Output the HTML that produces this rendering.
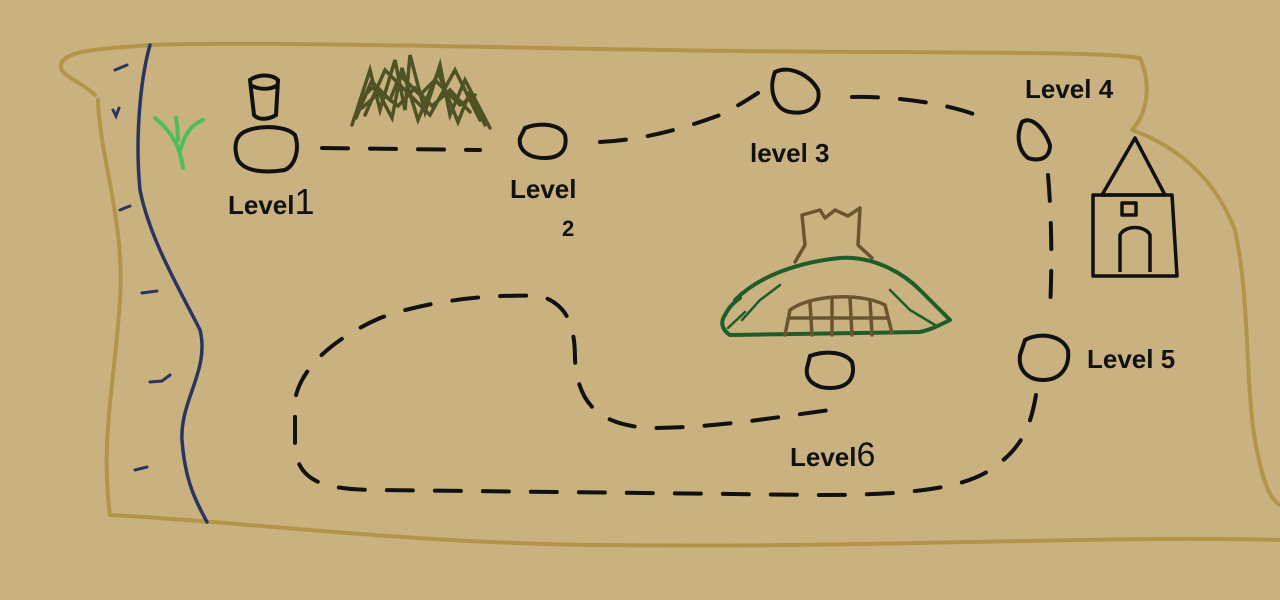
<!DOCTYPE html>
<html><head><meta charset="utf-8"><style>
html,body{margin:0;padding:0;background:#C9B280;}
svg{display:block}
text{font-family:"Liberation Sans",sans-serif;font-weight:bold;fill:#111;}
</style></head><body>
<svg width="1280" height="600" viewBox="0 0 1280 600">
<rect width="1280" height="600" fill="#C9B280"/>
<path fill="none" stroke="#B3954A" stroke-width="4" stroke-linecap="round" stroke-linejoin="round"
 d="M95,95 C80,80 55,75 62,62 C70,48 120,48 150,45 C300,40 600,52 900,52 C1000,53 1100,52 1140,58 C1150,80 1150,110 1132,130 C1160,140 1210,165 1235,230 C1250,300 1245,380 1255,440 C1262,480 1270,500 1280,505 M1280,540 C1100,535 900,548 600,545 C400,543 250,522 110,515 C100,440 115,380 120,300 C125,220 100,160 98,100"/>
<path fill="none" stroke="#2A3560" stroke-width="3.5" stroke-linecap="round"
 d="M150,45 C140,80 135,140 140,190 C150,240 180,290 200,330 C210,370 180,400 182,440 C185,480 195,500 207,522"/>
<g fill="none" stroke="#2A3560" stroke-width="3" stroke-linecap="round">
<path d="M115,70 l12,-5"/><path d="M113,110 l3,6 l3,-8"/><path d="M120,210 l10,-4"/><path d="M142,293 l15,-2"/><path d="M150,382 l12,-1 l8,-6"/><path d="M135,470 l12,-3"/>
</g>
<path fill="none" stroke="#4CBF5A" stroke-width="4" stroke-linecap="round" d="M183,168 C180,145 170,130 155,118 M180,150 C185,135 190,125 203,120 M178,140 C178,130 177,125 176,118"/>
<g fill="none" stroke="#4E5224" stroke-width="3.5" stroke-linecap="round">
<path d="M352,125 L370,70 L380,110 L395,60 L405,110 L410,55 L425,112 L440,65 L450,115 L465,80 L490,128"/>
<path d="M360,100 L375,85 L390,100 L400,75 L420,95 L435,80 L460,105 L475,95"/>
<path d="M365,115 L385,70 L430,115 L455,70 L480,120"/>
<path d="M356,118 L372,80 L392,118 L402,68 L418,120 L438,72 L458,122 L470,92 L485,125"/>
<path d="M362,108 L380,92 L398,106 L415,88 L432,106 L450,90 L470,112"/>
</g>
<g fill="none" stroke="#111" stroke-width="4" stroke-linecap="round" stroke-dasharray="26,22">
<path d="M322,148 L480,150"/>
<path d="M600,142 C640,140 680,130 720,115 C740,105 750,98 758,93"/>
<path d="M852,97 C900,96 960,105 992,122"/>
<path d="M1048,175 C1052,220 1052,270 1050,310"/>
<path d="M1036,395 C1030,430 1020,450 990,470 C960,490 900,495 820,495 L380,490 C320,490 300,480 295,450 L295,400 C300,370 330,340 380,318 C430,300 490,294 540,296 C570,305 575,330 575,360 C578,400 595,425 650,428 C720,428 790,415 830,410"/>
</g>
<g fill="none" stroke="#111" stroke-width="4">
<path d="M240,135 C250,125 285,124 295,135 C300,150 295,165 285,170 C265,173 245,172 238,160 C234,150 235,140 240,135Z"/>
<path d="M250,80 C258,74 272,74 278,80 L276,115 C268,120 258,120 254,115 Z M250,85 C260,90 270,90 278,85"/>
<path d="M525,128 C540,122 560,124 565,135 C568,150 560,158 545,158 C528,158 518,150 520,138 Z"/>
<path d="M775,72 C790,65 810,75 818,90 C822,108 805,115 790,112 C775,110 768,90 775,72Z"/>
<path d="M1022,122 C1032,115 1045,130 1050,145 C1050,158 1040,162 1028,158 C1018,150 1016,135 1022,122Z"/>
<path d="M1025,340 C1040,332 1062,335 1068,350 C1070,368 1060,380 1043,380 C1028,380 1018,370 1020,355 Z"/>
<path d="M810,356 C825,350 845,352 852,362 C856,378 848,388 830,388 C815,388 805,380 807,368 Z"/>
</g>
<g fill="none" stroke="#111" stroke-width="3.5" stroke-linejoin="round">
<path d="M1102,195 L1135,138 L1165,195 Z"/>
<path d="M1093,195 L1093,276 L1177,276 L1172,195 Z"/>
<rect x="1122" y="203" width="14" height="12"/>
<path d="M1120,272 L1120,235 C1125,225 1145,225 1150,235 L1150,272"/>
</g>
<g fill="none" stroke-linecap="round" stroke-linejoin="round">
<path stroke="#6B5530" stroke-width="3.5" d="M795,262 L805,245 L802,215 L820,210 L825,218 L835,210 L848,216 L860,208 L858,245 L872,258"/>
<path stroke="#1E5C2A" stroke-width="4" d="M735,300 C760,275 800,262 840,258 C870,256 900,270 920,290 C935,305 945,315 950,320 C940,325 930,330 920,332 L730,335 C722,330 720,322 725,315 C730,305 735,302 740,298"/>
<path stroke="#1E5C2A" stroke-width="2.5" d="M742,320 L760,300 L780,285 M890,290 L910,310 L935,325 M728,328 L745,312"/>
<path stroke="#6B5530" stroke-width="3.5" d="M785,335 L790,310 C810,295 860,292 885,305 L892,333 M810,303 L812,335 M832,298 L832,335 M850,298 L852,335 M870,300 L872,335 M790,318 L888,318"/>
</g>
<text x="228" y="214" font-size="26">Level<tspan font-size="36" font-weight="normal">1</tspan></text>
<text x="510" y="198" font-size="26">Level</text>
<text x="562" y="236" font-size="22">2</text>
<text x="750" y="162" font-size="26">level 3</text>
<text x="1025" y="98" font-size="26">Level 4</text>
<text x="1087" y="368" font-size="26">Level 5</text>
<text x="790" y="466" font-size="26">Level<tspan font-size="34" font-weight="normal">6</tspan></text>
</svg>
</body></html>
